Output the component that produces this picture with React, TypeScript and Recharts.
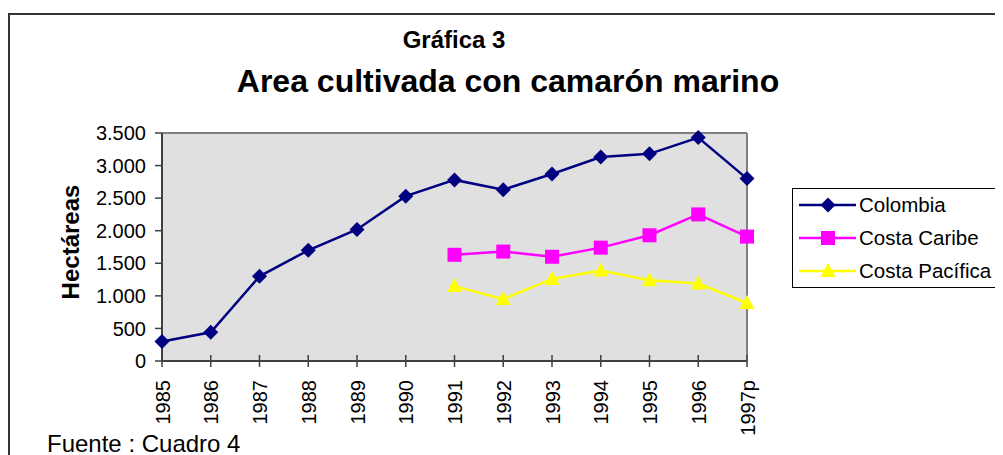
import React from "react";
import { CartesianGrid, Legend, Line, LineChart, ReferenceLine, XAxis, YAxis } from "recharts";

const years = ["1985", "1986", "1987", "1988", "1989", "1990", "1991", "1992", "1993", "1994", "1995", "1996", "1997p"];
const colombia = [300, 440, 1300, 1700, 2020, 2530, 2780, 2630, 2870, 3130, 3180, 3430, 2800];
const costaCaribe = [null, null, null, null, null, null, 1630, 1680, 1600, 1740, 1930, 2250, 1910];
const costaPacifica = [null, null, null, null, null, null, 1150, 950, 1260, 1390, 1240, 1190, 890];
const yTicks = [0, 500, 1000, 1500, 2000, 2500, 3000, 3500];

const series = [
  { key: "colombia", name: "Colombia", color: "#000080", shape: "diamond" },
  { key: "caribe", name: "Costa Caribe", color: "#ff00ff", shape: "square" },
  { key: "pacifica", name: "Costa Pacífica", color: "#ffff00", shape: "triangle" },
];

const data = years.map((year, i) => ({
  year,
  colombia: colombia[i],
  caribe: costaCaribe[i],
  pacifica: costaPacifica[i],
}));

const font = '"Liberation Sans", Arial, sans-serif';

function marker(shape: string, cx: number, cy: number, color: string, key?: any) {
  if (shape === "diamond") {
    return <path key={key} d={`M${cx},${cy - 7.5}L${cx + 7.5},${cy}L${cx},${cy + 7.5}L${cx - 7.5},${cy}Z`} fill={color} />;
  }
  if (shape === "square") {
    return <rect key={key} x={cx - 7} y={cy - 7} width={14} height={14} fill={color} />;
  }
  return <path key={key} d={`M${cx},${cy - 8}L${cx + 7.5},${cy + 6}L${cx - 7.5},${cy + 6}Z`} fill={color} />;
}

const dotFor = (shape: string, color: string) => (p: any) => {
  if (p.cy == null || p.value == null) return <g key={p.index} />;
  return marker(shape, p.cx, p.cy, color, p.index);
};

const fmt = (v: number) => (v >= 1000 ? `${Math.floor(v / 1000)}.${String(v % 1000).padStart(3, "0")}` : String(v));

function YearTick({ x, y, payload }: any) {
  return (
    <g>
      <line x1={x} x2={x} y1={y - 6} y2={y + 6} stroke="#404040" strokeWidth={1.5} />
      <text transform={`translate(${x + 7.5},${y + 19}) rotate(-90)`} textAnchor="end" fontSize={20} fill="#000">
        {payload.value}
      </text>
    </g>
  );
}

function LegendBox() {
  return (
    <div
      style={{
        border: "1.5px solid #000",
        width: 209,
        height: 100,
        boxSizing: "border-box",
        background: "#fff",
        position: "relative",
        fontFamily: font,
      }}
    >
      {series.map((s, i) => (
        <div key={s.key} style={{ position: "absolute", left: 0, top: 4 + i * 33, height: 24, display: "flex", alignItems: "center" }}>
          <svg width={66} height={24}>
            <line x1={6} x2={63} y1={12} y2={12} stroke={s.color} strokeWidth={2.5} />
            {marker(s.shape, 35, 12, s.color)}
          </svg>
          <span style={{ fontSize: 20.5, color: "#000", whiteSpace: "nowrap" }}>{s.name}</span>
        </div>
      ))}
    </div>
  );
}

export default function App() {
  return (
    <div style={{ position: "relative", width: 995, height: 447, fontFamily: font, background: "#fff" }}>
      <div
        style={{
          position: "absolute",
          left: 0,
          top: 5,
          width: 995,
          height: 442,
          boxSizing: "border-box",
          borderLeft: "2px solid #333",
          borderTop: "2px solid #333",
        }}
      />
      <div style={{ position: "absolute", left: 446, top: 20, transform: "translateX(-50%)", fontSize: 24, lineHeight: "24px", fontWeight: "bold", whiteSpace: "nowrap" }}>
        Gráfica 3
      </div>
      <div style={{ position: "absolute", left: 500, top: 57, transform: "translateX(-50%)", fontSize: 32, lineHeight: "32px", fontWeight: "bold", whiteSpace: "nowrap" }}>
        Area cultivada con camarón marino
      </div>
      <div
        style={{
          position: "absolute",
          left: 63,
          top: 234,
          transform: "translate(-50%,-50%) rotate(-90deg)",
          fontSize: 24,
          lineHeight: "24px",
          fontWeight: "bold",
          whiteSpace: "nowrap",
        }}
      >
        Hectáreas
      </div>
      <div style={{ position: "absolute", left: 39, top: 424, fontSize: 24, lineHeight: "24px", whiteSpace: "nowrap" }}>
        Fuente : Cuadro 4
      </div>
      <LineChart width={995} height={447} data={data} margin={{ top: 125, right: 256, left: 0, bottom: 0 }} style={{ position: "absolute", left: 0, top: 0 }}>
        <CartesianGrid horizontal={false} vertical={false} fill="#e0e0e0" />
        <ReferenceLine y={3500} stroke="#808080" strokeWidth={2} />
        <ReferenceLine x="1997p" stroke="#808080" strokeWidth={2} />
        <XAxis
          dataKey="year"
          height={94}
          interval={0}
          tickSize={0}
          tickMargin={0}
          tickLine={false}
          axisLine={{ stroke: "#404040", strokeWidth: 2 }}
          tick={<YearTick />}
        />
        <YAxis
          width={154}
          domain={[0, 3500]}
          ticks={yTicks}
          tickFormatter={fmt}
          tickSize={7}
          tickMargin={9}
          axisLine={{ stroke: "#404040", strokeWidth: 2 }}
          tickLine={{ stroke: "#404040", strokeWidth: 1.5 }}
          tick={{ fontSize: 20, fill: "#000" }}
        />
        <Legend
          layout="vertical"
          align="center"
          verticalAlign="middle"
          content={() => <LegendBox />}
          wrapperStyle={{ left: 784, top: 180, width: 209, height: 100 }}
        />
        {series.map((s) => (
          <Line
            key={s.key}
            dataKey={s.key}
            name={s.name}
            stroke={s.color}
            strokeWidth={2.5}
            dot={dotFor(s.shape, s.color)}
            activeDot={false}
            isAnimationActive={false}
            connectNulls={false}
          />
        ))}
      </LineChart>
    </div>
  );
}
